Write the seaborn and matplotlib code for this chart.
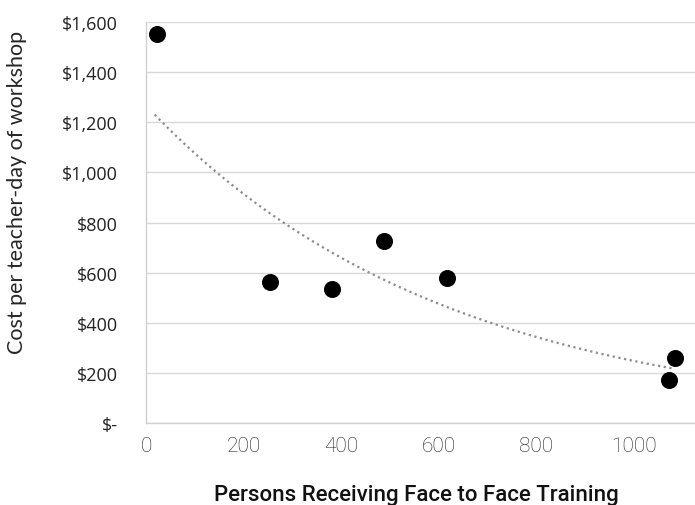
import numpy as np
import pandas as pd
import seaborn as sns
import matplotlib.pyplot as plt
from matplotlib.ticker import FuncFormatter, MultipleLocator

# workshop data
persons = [22, 254, 381, 488, 617, 1072, 1084]
cost = [1552, 563, 535, 726, 579, 172, 259]

df = pd.DataFrame({'Persons': persons, 'Cost': cost})

# exponential trendline (like excel) fitted to the points
b, ln_a = np.polyfit(df['Persons'], np.log(df['Cost']), 1)
trend_x = np.linspace(18, df['Persons'].max(), 100)
trend = pd.DataFrame({'Persons': trend_x, 'Cost': np.exp(ln_a) * np.exp(b * trend_x)})

sns.set_style("white")
plt.rcParams['font.family'] = ['Open Sans', 'DejaVu Sans']

fig = plt.figure(figsize=(6.95, 5.06), dpi=100)
ax = fig.add_axes([0.210, 0.162, 0.8426, 0.7925])

sns.lineplot(x='Persons', y='Cost', data=trend, ax=ax, color='#8c8c8c',
             linestyle=(0, (1, 1.6)), linewidth=1.6)
sns.scatterplot(x='Persons', y='Cost', data=df, ax=ax, color='black', s=150,
                edgecolor='black', linewidth=0, zorder=3)

ax.set_xlim(0, 1200)
ax.set_ylim(0, 1600)
ax.xaxis.set_major_locator(MultipleLocator(200))
ax.yaxis.set_major_locator(MultipleLocator(200))
ax.yaxis.set_major_formatter(FuncFormatter(lambda v, p: '$-' if v == 0 else f'${v:,.0f}'))
ax.set_xticks([0, 200, 400, 600, 800, 1000])

ax.grid(axis='y', color='#d9d9d9', linewidth=1)
for side in ['top', 'right']:
    ax.spines[side].set_visible(False)
for side in ['left', 'bottom']:
    ax.spines[side].set_color('#d0d0d0')
    ax.spines[side].set_linewidth(1)

ax.tick_params(axis='y', length=0, pad=20, labelsize=13, labelcolor='#222222')
ax.tick_params(axis='x', length=0, pad=9, labelsize=15, labelcolor='#222222')
for lab in ax.get_xticklabels():
    lab.set_family(['Roboto', 'DejaVu Sans'])
    lab.set_fontweight('light')

ax.set_xlabel('Persons Receiving Face to Face Training', fontsize=16,
              family=['Roboto', 'DejaVu Sans'], fontweight='medium', color='#111111')
ax.xaxis.set_label_coords(0.461, -0.152)
ax.set_ylabel('Cost per teacher-day of workshop', fontsize=15.5, family=['Lato', 'DejaVu Sans'])
ax.yaxis.set_label_coords(-0.203, 0.578)

fig.savefig('out.png', dpi=100)
